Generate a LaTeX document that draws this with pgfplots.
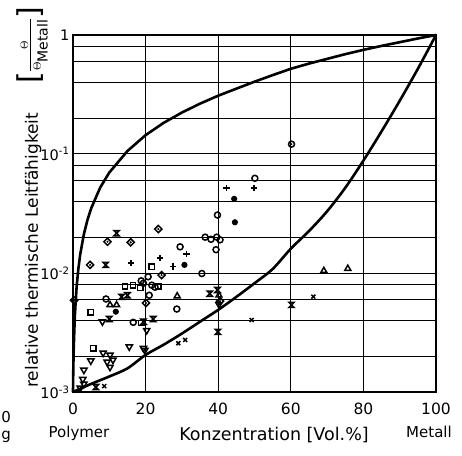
\documentclass[border=0pt]{standalone}
\usepackage{fontspec}
\setmainfont{DejaVu Sans}
\usepackage{amsmath}
\usepackage{pgfplots}
\pgfplotsset{compat=1.18}
\pgfdeclareplotmark{hourglass}{%
  \pgfpathmoveto{\pgfqpoint{-\pgfplotmarksize}{\pgfplotmarksize}}%
  \pgfpathlineto{\pgfqpoint{\pgfplotmarksize}{\pgfplotmarksize}}%
  \pgfpathlineto{\pgfqpoint{-\pgfplotmarksize}{-\pgfplotmarksize}}%
  \pgfpathlineto{\pgfqpoint{\pgfplotmarksize}{-\pgfplotmarksize}}%
  \pgfpathclose\pgfusepathqstroke}
\pgfdeclareplotmark{odot}{%
  \pgfpathcircle{\pgfpointorigin}{\pgfplotmarksize}\pgfusepathqstroke
  \pgfpathcircle{\pgfpointorigin}{0.35\pgfplotmarksize}\pgfusepathqfill}
\pgfdeclareplotmark{ddot}{%
  \pgfpathmoveto{\pgfqpoint{0pt}{1.2\pgfplotmarksize}}%
  \pgfpathlineto{\pgfqpoint{1.2\pgfplotmarksize}{0pt}}%
  \pgfpathlineto{\pgfqpoint{0pt}{-1.2\pgfplotmarksize}}%
  \pgfpathlineto{\pgfqpoint{-1.2\pgfplotmarksize}{0pt}}%
  \pgfpathclose\pgfusepathqstroke
  \pgfpathcircle{\pgfpointorigin}{0.4\pgfplotmarksize}\pgfusepathqfill}
\newcommand{\bigbr}[1]{\raisebox{-5pt}{\fontsize{30}{30}\selectfont #1}}
\begin{document}
\begin{tikzpicture}
\useasboundingbox (-73pt,-63pt) rectangle (389pt,392pt);
\begin{axis}[
  at={(0pt,0pt)}, anchor=south west,
  scale only axis, width=363pt, height=357pt,
  xmin=0, xmax=100, ymode=log, ymin=1e-3, ymax=1,
  xtick={0,20,40,60,80,100}, xticklabels={0,20,40,60,80,100},
  ytick={1e-3,1e-2,1e-1,1},
  yticklabels={10\textsuperscript{-3},10\textsuperscript{-2},10\textsuperscript{-1},1},
  minor ytick={2e-3,4e-3,6e-3,8e-3,2e-2,4e-2,6e-2,8e-2,2e-1,4e-1,6e-1,8e-1},
  xmajorgrids, ymajorgrids, yminorgrids,
  major tick length=0pt, minor tick length=0pt,
  axis line style={line width=1.7pt},
  major grid style={line width=1pt, black},
  minor grid style={line width=1pt, black},
  xticklabel style={font=\fontsize{15.5}{17}\selectfont, yshift=-7pt},
  yticklabel style={font=\fontsize{14.5}{16}\selectfont},
  clip=false,
  every axis plot/.append style={only marks, black, mark size=3pt, line width=1.5pt},
]
% upper bound curve
\addplot[no marks, sharp plot, line width=2.6pt] coordinates {
 (0,0.001) (0.05,0.00133) (0.1,0.00167) (0.2,0.00233) (0.5,0.00433) (1,0.00769)
 (1.5,0.0110) (2,0.0144) (3,0.0212) (4,0.0280) (5,0.0349) (7.5,0.0523)
 (10,0.0699) (15,0.106) (20,0.144) (25,0.183) (30,0.223) (35,0.265)
 (40,0.309) (45,0.354) (50,0.405) (55,0.46) (60,0.52) (65,0.575)
 (70,0.63) (75,0.69) (80,0.75) (85,0.81) (90,0.87) (95,0.935) (100,1)
};
% lower bound curve
\addplot[no marks, smooth, line width=2.6pt] coordinates {
 (0,0.001) (5,0.00117) (10,0.00135) (15,0.00158) (20,0.00205) (25,0.0025)
 (30,0.0031) (35,0.0039) (40,0.0049) (45,0.0063) (50,0.0082) (55,0.0108)
 (60,0.0160) (65,0.0225) (70,0.033) (75,0.052) (80,0.088) (85,0.155)
 (90,0.28) (95,0.52) (100,1)
};
% open circles
\addplot[mark=o] coordinates {
 (9.1,0.00605) (16.6,0.00385) (28.6,0.00498) (29.5,0.0166) (35.5,0.0099)
 (36.4,0.0200) (38.0,0.0192) (39.6,0.0200) (40.5,0.0190) (39.4,0.0157)
 (39.8,0.0307) (50.1,0.0625) (20.7,0.0093) (19.4,0.0082) (21.7,0.0079)
 (22.6,0.0076) (21.0,0.0065) (18.8,0.0086)
};
% circle with dot
\addplot[mark=odot] coordinates {(60.2,0.121)};
% diamond with dot
\addplot[mark=ddot] coordinates {
 (0.3,0.0059) (4.7,0.0117) (9.5,0.0183) (15.9,0.0181) (23.5,0.0234)
 (24.4,0.0096) (20.1,0.0056) (40.5,0.0058)
};
% hourglass
\addplot[mark=hourglass, mark size=2.6pt] coordinates {
 (12.0,0.0216) (9.0,0.0117) (13.4,0.0063) (15.0,0.0065) (10.0,0.0041)
 (22.1,0.0041) (19.4,0.0039) (37.7,0.0067) (39.8,0.0072) (60.2,0.0054)
 (6.3,0.0011) (39.9,0.0032)
};
% plus
\addplot[mark=+, mark size=3.2pt, line width=1.6pt] coordinates {
 (16.0,0.0122) (24.0,0.0133) (27.6,0.0113) (31.3,0.0144) (42.3,0.0515) (49.9,0.052)
};
% filled dots
\addplot[mark=*, mark size=2.3pt] coordinates {
 (11.8,0.00473) (30.7,0.0117) (44.6,0.0267) (44.4,0.042)
};
% triangles down
\addplot[mark=triangle, mark options={rotate=180}, mark size=3.6pt] coordinates {
 (2.0,0.00108) (2.7,0.00128) (3.0,0.00117) (3.0,0.00153) (4.9,0.00183)
 (8.1,0.0039) (8.3,0.00213) (10.2,0.00205) (11.0,0.00186) (9.4,0.00179)
 (10.2,0.00162) (15.5,0.0024) (19.4,0.00233) (19.8,0.00225) (20.3,0.0033)
 (40.2,0.00545)
};
% triangles up
\addplot[mark=triangle, mark size=3.4pt] coordinates {
 (10.2,0.0054) (12.0,0.0054) (28.7,0.0064) (40.2,0.0065) (69.1,0.01045) (75.7,0.0109)
};
% crosses
\addplot[mark=x, mark size=2.8pt] coordinates {
 (8.6,0.00112) (29.0,0.00257) (30.9,0.00274) (49.2,0.00403) (66.2,0.00632)
};
% squares
\addplot[mark=square, mark size=2.6pt] coordinates {
 (4.9,0.00468) (5.6,0.00233) (21.7,0.0113) (14.3,0.0077) (16.5,0.0079)
 (18.5,0.0075) (23.5,0.0077) (18.8,0.0038)
};
% labels
\node[rotate=90, anchor=base west, inner sep=0pt, font=\fontsize{17}{18}\selectfont]
  at ([xshift=-35pt, yshift=4pt]rel axis cs:0,0) {relative thermische Leitfähigkeit};
\node[rotate=90, anchor=center, inner sep=0pt, font=\fontsize{16}{17}\selectfont]
  at ([xshift=-40.5pt]rel axis cs:0,0.972) {\bigbr{[}$\frac{\Theta}{\Theta_{\mbox{\fontsize{14}{15}\selectfont Metall}}}$\bigbr{]}};
\node[anchor=base, inner sep=0pt, font=\fontsize{15}{16}\selectfont]
  at ([xshift=6pt, yshift=-45pt]rel axis cs:0,0) {Polymer};
\node[anchor=base, inner sep=0pt, font=\fontsize{17.5}{18}\selectfont]
  at ([xshift=201pt, yshift=-48pt]rel axis cs:0,0) {Konzentration [Vol.\%]};
\node[anchor=base, inner sep=0pt, font=\fontsize{15}{16}\selectfont]
  at ([xshift=356pt, yshift=-45pt]rel axis cs:0,0) {Metall};
\node[anchor=base east, inner sep=0pt, font=\fontsize{15}{16}\selectfont]
  at ([xshift=-62pt, yshift=-30pt]rel axis cs:0,0) {0};
\node[anchor=base east, inner sep=0pt, font=\fontsize{15}{16}\selectfont]
  at ([xshift=-62pt, yshift=-47pt]rel axis cs:0,0) {g};
\end{axis}
\end{tikzpicture}
\end{document}
